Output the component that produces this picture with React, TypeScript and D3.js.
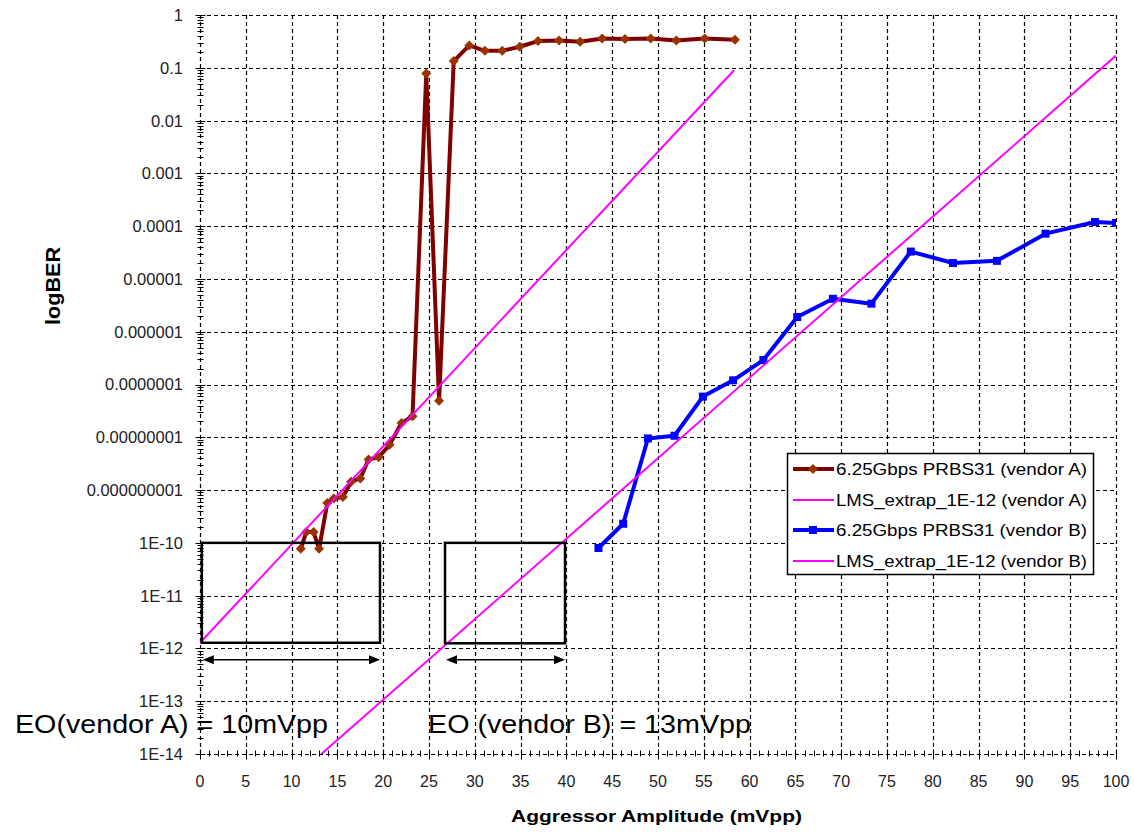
import React, { useRef, useEffect } from "react";
import * as d3 from "d3";

// vendor A measured BER
const vendorAAmp = [11.0, 11.6, 12.4, 13.0, 13.9, 14.6, 15.6, 16.5, 17.5, 18.4, 19.5, 20.7, 22.0, 23.2, 24.7, 26.1, 27.7, 29.4, 31.1, 33.0, 34.9, 36.9, 39.2, 41.5, 43.9, 46.4, 49.2, 52.0, 55.1, 58.4];
const vendorABer = [7.7e-11, 1.6e-10, 1.6e-10, 7.7e-11, 5.7e-10, 6.9e-10, 7.4e-10, 1.44e-9, 1.66e-9, 3.8e-9, 4.2e-9, 7.2e-9, 1.87e-8, 2.5e-8, 0.078, 4.9e-8, 0.134, 0.265, 0.21, 0.21, 0.25, 0.32, 0.33, 0.31, 0.36, 0.35, 0.36, 0.33, 0.36, 0.34];

// vendor B measured BER
const vendorBAmp = [43.5, 46.2, 48.9, 51.8, 54.9, 58.2, 61.5, 65.2, 69.1, 73.3, 77.6, 82.2, 87.0, 92.3, 97.7, 100];
const vendorBBer = [8e-11, 2.3e-10, 9.5e-9, 1.07e-8, 5.9e-8, 1.2e-7, 2.9e-7, 1.9e-6, 4.2e-6, 3.4e-6, 3.3e-5, 2.0e-5, 2.2e-5, 7.2e-5, 1.2e-4, 1.15e-4];

// LMS extrapolation lines (end points)
const extrapAAmp = [0, 58.3];
const extrapABer = [1.28e-12, 0.09];
const extrapBAmp = [13.25, 100];
const extrapBBer = [1e-14, 0.17];

// annotation boxes: [amp0, amp1, berTop, berBottom]
const boxA = [0.2, 19.65, 1e-10, 1.28e-12];
const boxB = [26.75, 39.85, 1e-10, 1.25e-12];
const arrowBer = 6.1e-13;

const xTicks = [0, 5, 10, 15, 20, 25, 30, 35, 40, 45, 50, 55, 60, 65, 70, 75, 80, 85, 90, 95, 100];
const yTicks = [1, 0.1, 0.01, 0.001, 0.0001, 1e-5, 1e-6, 1e-7, 1e-8, 1e-9, 1e-10, 1e-11, 1e-12, 1e-13, 1e-14];
const yTickLabels = ["1", "0.1", "0.01", "0.001", "0.0001", "0.00001", "0.000001", "0.0000001", "0.00000001", "0.000000001", "1E-10", "1E-11", "1E-12", "1E-13", "1E-14"];

const legendLabels = [
  "6.25Gbps PRBS31 (vendor A)",
  "LMS_extrap_1E-12 (vendor A)",
  "6.25Gbps PRBS31 (vendor B)",
  "LMS_extrap_1E-12 (vendor B)",
];

const FONT = "'Liberation Sans', Arial, sans-serif";
const BROWN = "#800000";
const BROWN_MK = "#993300";
const BLUE = "#0000ff";
const MAGENTA = "#ff00ff";

const App = () => {
  const svgRef = useRef<SVGSVGElement>(null);

  useEffect(() => {
    const svg = d3.select(svgRef.current);
    svg.selectAll("*").remove();

    const x = d3.scaleLinear().domain([0, 100]).range([200, 1116]);
    const y = d3.scaleLog().domain([1e-14, 1]).range([754, 15]);
    const px = (v: number) => Math.round(v) + 0.5;

    svg.append("rect").attr("width", 1134).attr("height", 832).attr("fill", "#fff");

    // grid
    const grid = svg.append("g");
    grid.selectAll(".vg").data(xTicks).enter().append("line")
      .attr("x1", (d) => px(x(d))).attr("x2", (d) => px(x(d)))
      .attr("y1", y(1)).attr("y2", y(1e-14))
      .attr("stroke", "#000").attr("stroke-width", 1.2).attr("stroke-dasharray", "4,3");
    grid.selectAll(".hg").data(yTicks).enter().append("line")
      .attr("y1", (d) => px(y(d))).attr("y2", (d) => px(y(d)))
      .attr("x1", x(0)).attr("x2", x(100))
      .attr("stroke", "#000").attr("stroke-width", 1.2).attr("stroke-dasharray", "4,3");

    // y axis ticks
    const minorY: number[] = [];
    for (let e = -14; e < 0; e++) for (let k = 2; k <= 9; k++) minorY.push(k * Math.pow(10, e));
    const ax = svg.append("g").attr("stroke", "#000").attr("stroke-width", 1);
    ax.selectAll(".my").data(minorY).enter().append("line")
      .attr("x1", px(x(0)) - 3).attr("x2", px(x(0)) + 3)
      .attr("y1", (d) => px(y(d))).attr("y2", (d) => px(y(d)));
    ax.selectAll(".My").data(yTicks).enter().append("line")
      .attr("x1", px(x(0)) - 5).attr("x2", px(x(0)) + 5)
      .attr("y1", (d) => px(y(d))).attr("y2", (d) => px(y(d)));

    // x axis ticks
    const minorX = d3.range(0, 101, 1);
    ax.selectAll(".mx").data(minorX).enter().append("line")
      .attr("x1", (d) => px(x(d))).attr("x2", (d) => px(x(d)))
      .attr("y1", px(y(1e-14)) - 4).attr("y2", px(y(1e-14)) + 2);
    ax.selectAll(".Mx").data(xTicks).enter().append("line")
      .attr("x1", (d) => px(x(d))).attr("x2", (d) => px(x(d)))
      .attr("y1", px(y(1e-14)) - 5).attr("y2", px(y(1e-14)) + 5);

    // tick labels
    svg.append("g").selectAll("text").data(yTicks).enter().append("text")
      .attr("x", 183).attr("y", (d) => y(d)).attr("dy", "0.36em")
      .attr("text-anchor", "end").attr("font-family", FONT).attr("font-size", 16.5).attr("fill", "#222")
      .text((d, i) => yTickLabels[i]);
    svg.append("g").selectAll("text").data(xTicks).enter().append("text")
      .attr("x", (d) => x(d)).attr("y", 787)
      .attr("text-anchor", "middle").attr("font-family", FONT).attr("font-size", 16).attr("fill", "#222")
      .text((d) => String(d));

    // axis titles
    svg.append("text")
      .attr("transform", "translate(60,286) rotate(-90)")
      .attr("text-anchor", "middle").attr("font-family", FONT).attr("font-weight", "bold")
      .attr("font-size", 20).attr("textLength", 78).attr("lengthAdjust", "spacingAndGlyphs")
      .text("logBER");
    svg.append("text")
      .attr("x", 511).attr("y", 822)
      .attr("font-family", FONT).attr("font-weight", "bold")
      .attr("font-size", 17).attr("textLength", 291).attr("lengthAdjust", "spacingAndGlyphs")
      .text("Aggressor Amplitude (mVpp)");

    const line = d3.line<[number, number]>().x((d) => x(d[0])).y((d) => y(d[1]));
    const zip = (a: number[], b: number[]) => a.map((v, i) => [v, b[i]] as [number, number]);

    svg.append("defs").append("clipPath").attr("id", "plotclip")
      .append("rect").attr("x", x(0)).attr("y", y(1)).attr("width", x(100) - x(0)).attr("height", y(1e-14) - y(1));

    const plot = svg.append("g").attr("clip-path", "url(#plotclip)");

    // vendor A measured
    const dataA = zip(vendorAAmp, vendorABer);
    plot.append("path").datum(dataA).attr("d", line)
      .attr("fill", "none").attr("stroke", BROWN).attr("stroke-width", 4).attr("stroke-linejoin", "round");
    plot.selectAll(".mkA").data(dataA).enter().append("path")
      .attr("transform", (d) => `translate(${x(d[0])},${y(d[1])})`)
      .attr("d", "M0,-5L5,0L0,5L-5,0Z").attr("fill", BROWN_MK);

    // extrap A
    plot.append("path").datum(zip(extrapAAmp, extrapABer)).attr("d", line)
      .attr("fill", "none").attr("stroke", MAGENTA).attr("stroke-width", 2);

    // vendor B measured
    const dataB = zip(vendorBAmp, vendorBBer);
    plot.append("path").datum(dataB).attr("d", line)
      .attr("fill", "none").attr("stroke", BLUE).attr("stroke-width", 4).attr("stroke-linejoin", "round");
    plot.selectAll(".mkB").data(dataB).enter().append("rect")
      .attr("x", (d) => x(d[0]) - 4).attr("y", (d) => y(d[1]) - 4)
      .attr("width", 8).attr("height", 8).attr("fill", BLUE);

    // extrap B
    plot.append("path").datum(zip(extrapBAmp, extrapBBer)).attr("d", line)
      .attr("fill", "none").attr("stroke", MAGENTA).attr("stroke-width", 2);

    // annotation boxes and arrows
    [boxA, boxB].forEach((b) => {
      svg.append("rect")
        .attr("x", x(b[0])).attr("y", y(b[2]))
        .attr("width", x(b[1]) - x(b[0])).attr("height", y(b[3]) - y(b[2]))
        .attr("fill", "none").attr("stroke", "#000").attr("stroke-width", 2.5);
      const ay = y(arrowBer);
      const x0 = x(b[0]) + 1;
      const x1 = x(b[1]);
      svg.append("line").attr("x1", x0 + 6).attr("x2", x1 - 6).attr("y1", ay).attr("y2", ay)
        .attr("stroke", "#000").attr("stroke-width", 1.5);
      svg.append("path").attr("d", `M${x0},${ay}L${x0 + 11},${ay - 4.5}L${x0 + 11},${ay + 4.5}Z`).attr("fill", "#000");
      svg.append("path").attr("d", `M${x1},${ay}L${x1 - 11},${ay - 4.5}L${x1 - 11},${ay + 4.5}Z`).attr("fill", "#000");
    });

    // EO annotations
    svg.append("text").attr("x", 15).attr("y", 733)
      .attr("font-family", FONT).attr("font-size", 26)
      .attr("textLength", 313).attr("lengthAdjust", "spacingAndGlyphs")
      .text("EO(vendor A) = 10mVpp");
    svg.append("text").attr("x", 428).attr("y", 733)
      .attr("font-family", FONT).attr("font-size", 26)
      .attr("textLength", 323).attr("lengthAdjust", "spacingAndGlyphs")
      .text("EO (vendor B) = 13mVpp");

    // legend
    const lg = svg.append("g");
    lg.append("rect").attr("x", 787.5).attr("y", 453.5).attr("width", 306).attr("height", 121)
      .attr("fill", "#fff").attr("stroke", "#000").attr("stroke-width", 1.5);
    const rowY = [469, 500, 530, 561];
    const rowColor = [BROWN, MAGENTA, BLUE, MAGENTA];
    const rowWidth = [4, 2, 4, 2];
    legendLabels.forEach((label, i) => {
      const ry = rowY[i];
      lg.append("line").attr("x1", 793).attr("x2", 834).attr("y1", ry).attr("y2", ry)
        .attr("stroke", rowColor[i]).attr("stroke-width", rowWidth[i]);
      if (i === 0) {
        lg.append("path").attr("transform", `translate(813,${ry})`)
          .attr("d", "M0,-5L5,0L0,5L-5,0Z").attr("fill", BROWN_MK);
      }
      if (i === 2) {
        lg.append("rect").attr("x", 809).attr("y", ry - 4).attr("width", 8).attr("height", 8).attr("fill", BLUE);
      }
      lg.append("text").attr("x", 836).attr("y", ry).attr("dy", "0.36em")
        .attr("font-family", FONT).attr("font-size", 17)
        .attr("textLength", 251).attr("lengthAdjust", "spacingAndGlyphs")
        .text(label);
    });
  }, []);

  return (
    <div style={{ position: "absolute", left: 0, top: 0 }}>
      <svg ref={svgRef} width={1134} height={832} />
    </div>
  );
};

export default App;
